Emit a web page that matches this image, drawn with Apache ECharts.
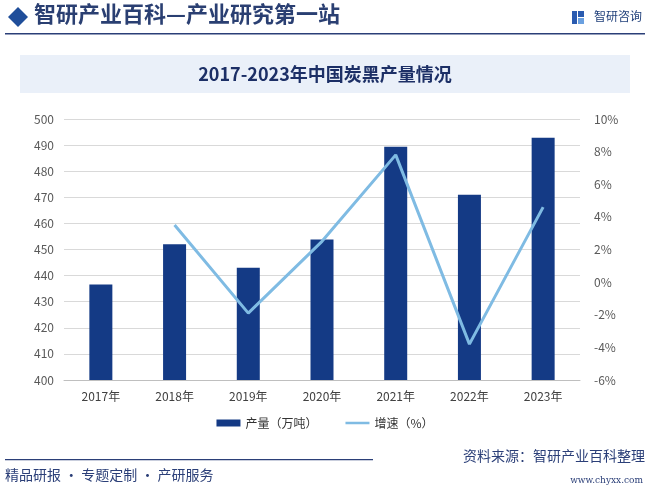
<!DOCTYPE html>
<html><head><meta charset="utf-8">
<script src="https://cdn.jsdelivr.net/npm/echarts@6/dist/echarts.min.js"></script>
<style>html,body{margin:0;padding:0;background:#fff}#c{width:650px;height:494px}</style>
</head><body><div id="c"></div>
<script>
var categories = ['2017年','2018年','2019年','2020年','2021年','2022年','2023年'];
var output = [436.6, 452.0, 443.0, 453.8, 489.4, 471.0, 492.8];
var growth = [null, 3.5, -1.9, 2.5, 7.8, -3.8, 4.6];
var seriesNames = ['产量（万吨）', '增速（%）'];
var titleText = '2017-2023年中国炭黑产量情况';
var headerText = '智研产业百科—产业研究第一站';
var chart = echarts.init(document.getElementById('c'), null, {renderer:'canvas'});
var cjk = '"Noto Sans CJK SC", "Noto Sans", sans-serif';
chart.setOption({
  backgroundColor:'#fff',
  animation:false,
  textStyle:{fontFamily:cjk},
  graphic:[
    {type:'polygon', shape:{points:[[18,7],[28,17],[18,27],[8,17]]}, style:{fill:'#1f4e9a'}},
    {type:'text', left:34, top:3, style:{text:headerText, font:'bold 22px "Noto Sans CJK SC"', fill:'#2a3f72'}},
    {type:'rect', shape:{x:5,y:33,width:640,height:1.5}, style:{fill:'#2b3f78'}},
    {type:'text', right:8, top:10, style:{text:'智研咨询', font:'12px "Noto Sans CJK SC"', fill:'#1f3f7a'}},
    {type:'rect', shape:{x:572,y:11,width:5,height:13}, style:{fill:'#2a5bb0'}},
    {type:'rect', shape:{x:578,y:11,width:6,height:6}, style:{fill:'#2a5bb0'}},
    {type:'rect', shape:{x:578,y:18,width:6,height:6}, style:{fill:'#6aa0e0'}},
    {type:'rect', shape:{x:20,y:55,width:610,height:38}, style:{fill:'#eaf0f9'}},
    {type:'text', x:325, y:74, style:{text:titleText, font:'bold 18px "Noto Sans CJK SC"', fill:'#1c2f66', textAlign:'center', textVerticalAlign:'middle'}},
    {type:'rect', shape:{x:5,y:459,width:368,height:1.2}, style:{fill:'#2b3f78'}},
    {type:'text', right:5, top:449, style:{text:'资料来源：智研产业百科整理', font:'14px "Noto Sans CJK SC"', fill:'#2b3f78'}},
    {type:'text', left:5, top:468, style:{text:'精品研报 · 专题定制 · 产研服务', font:'14px "Noto Sans CJK SC"', fill:'#2b3f78'}},
    {type:'text', right:7, top:476, style:{text:'www.chyxx.com', font:'9px "DejaVu Serif"', fill:'#2b3f78'}}
  ],
  grid:{left:64, right:70, top:119, bottom:114, containLabel:false},
  legend:{
    bottom:60, left:'center', itemGap:28, itemWidth:24, itemHeight:7,
    textStyle:{color:'#333', fontSize:12},
    data:[{name:seriesNames[0], icon:'rect'},
          {name:seriesNames[1], icon:'path://M0,0 L24,0 L24,2.5 L0,2.5 Z', itemStyle:{color:'#7fbbe3'}}]
  },
  xAxis:{
    type:'category', data:categories,
    axisLine:{onZero:false, lineStyle:{color:'#bfbfbf'}}, axisTick:{show:false},
    axisLabel:{color:'#404040', fontSize:12, margin:10}
  },
  yAxis:[
    {type:'value', min:400, max:500, interval:10,
     axisLine:{show:false}, axisTick:{show:false},
     axisLabel:{color:'#595959', fontSize:12, margin:10},
     splitLine:{lineStyle:{color:'#d9d9d9'}}},
    {type:'value', min:-6, max:10, interval:2,
     axisLine:{show:false}, axisTick:{show:false},
     axisLabel:{color:'#595959', fontSize:12, margin:14, formatter:'{value}%'},
     splitLine:{show:false}}
  ],
  series:[
    {name:seriesNames[0], type:'bar', data:output, barWidth:23, itemStyle:{color:'#143a85'}},
    {name:seriesNames[1], type:'line', yAxisIndex:1, data:growth, symbol:'none', showSymbol:false,
     lineStyle:{color:'#7fbbe3', width:3}, itemStyle:{color:'#7fbbe3'}}
  ]
});
</script></body></html>
